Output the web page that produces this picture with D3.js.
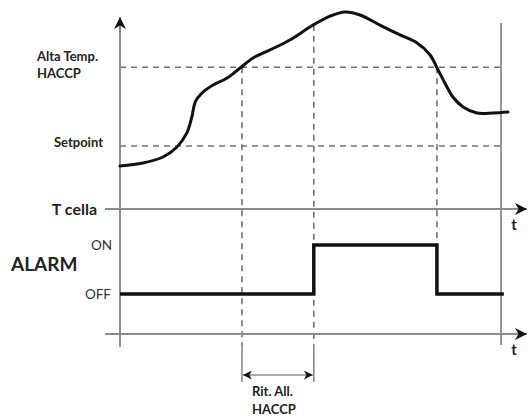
<!DOCTYPE html>
<html><head><meta charset="utf-8">
<script src="https://cdn.jsdelivr.net/npm/d3@7"></script>
<style>html,body{margin:0;padding:0;background:#fff;}svg{display:block;}</style>
</head><body>
<script>
// ---- data ----
const tempTime = [0,0.605,1.13,1.5,1.76,1.89,1.99,2.2,2.45,2.82,3.16,3.5,3.95,4.47,5.08,5.53,5.92,6.32,6.84,7.37,7.82,8.16,8.37,8.55,8.76,9.03,9.39,9.82,10.21];
const tempValue = [2.73,2.92,3.30,3.94,4.83,5.84,6.85,7.45,7.87,8.32,8.95,9.59,10.10,10.73,11.68,12.25,12.51,12.32,11.68,11.05,10.54,9.78,8.83,8.0,7.11,6.48,6.10,6.10,6.16];
const setpoint = 4;
const altaTemp = 9;
const tUp = 3.21, tOn = 5.1, tOff = 8.34, tEnd = 10.1;
const alarmTime = [0, tOn, tOn, tOff, tOff, tEnd];
const alarmState = [0, 0, 1, 1, 0, 0];
const thresholdLabels = [["Alta Temp.","HACCP"],["Setpoint"]];
const alarmLabels = ["OFF","ON"];

const W=528,H=416;
const svg=d3.select("body").append("svg").attr("width",W).attr("height",H);
const x=d3.scaleLinear().domain([0,10]).range([120,500]);
const y=d3.scaleLinear().domain([0,12]).range([209,20]);
const ya=d3.scaleLinear().domain([0,1]).range([294,245]);
const axisY2=334;
const gray="#8c8c8c", dgray="#707070";
const font="Lato, 'Open Sans', sans-serif";

const defs=svg.append("defs");
defs.append("marker").attr("id","arr").attr("viewBox","0 0 10 10").attr("refX",10).attr("refY",5)
  .attr("markerWidth",12).attr("markerHeight",12).attr("markerUnits","userSpaceOnUse").attr("orient","auto-start-reverse")
  .append("path").attr("d","M0,0L10,5L0,10L3,5Z").attr("fill","#111");
defs.append("marker").attr("id","arrs").attr("viewBox","0 0 10 10").attr("refX",10).attr("refY",5)
  .attr("markerWidth",10).attr("markerHeight",9).attr("markerUnits","userSpaceOnUse").attr("orient","auto-start-reverse")
  .append("path").attr("d","M0,0L10,5L0,10L3,5Z").attr("fill","#111");

// dashed thresholds
[altaTemp,setpoint].forEach(v=>{
  svg.append("line").attr("x1",x(0)).attr("x2",x(10)).attr("y1",y(v)).attr("y2",y(v))
    .attr("stroke",dgray).attr("stroke-width",1.6).attr("stroke-dasharray","6,5");
});
// vertical dashed
const curveAt=t=>{
  for(let i=1;i<tempTime.length;i++){ if(t<=tempTime[i]){const f=(t-tempTime[i-1])/(tempTime[i]-tempTime[i-1]);return tempValue[i-1]+f*(tempValue[i]-tempValue[i-1]);} }
  return tempValue[tempValue.length-1];
};
[[tUp,y(altaTemp),345],[tOn,y(curveAt(tOn)),345],[tOff,y(altaTemp),ya(1)]].forEach(d=>{
  svg.append("line").attr("x1",x(d[0])).attr("x2",x(d[0])).attr("y1",d[1]).attr("y2",d[2])
    .attr("stroke",dgray).attr("stroke-width",1.6).attr("stroke-dasharray","6,5");
});
[tUp,tOn].forEach(t=>{
  svg.append("line").attr("x1",x(t)).attr("x2",x(t)).attr("y1",345).attr("y2",382).attr("stroke",dgray).attr("stroke-width",1.3);
});
// delay arrow
svg.append("line").attr("x1",x(tUp)+1).attr("x2",x(tOn)-1).attr("y1",375).attr("y2",375)
  .attr("stroke",gray).attr("stroke-width",1.6).attr("marker-start","url(#arrs)").attr("marker-end","url(#arrs)");

// axes
svg.append("line").attr("x1",x(0)).attr("x2",x(0)).attr("y1",347).attr("y2",17).attr("stroke",gray).attr("stroke-width",2).attr("marker-end","url(#arr)");
svg.append("line").attr("x1",x(10)+1).attr("x2",x(10)+1).attr("y1",23).attr("y2",345).attr("stroke",gray).attr("stroke-width",1.8);
svg.append("line").attr("x1",105).attr("x2",527).attr("y1",y(0)).attr("y2",y(0)).attr("stroke",gray).attr("stroke-width",2).attr("marker-end","url(#arr)");
svg.append("line").attr("x1",105).attr("x2",527).attr("y1",axisY2).attr("y2",axisY2).attr("stroke",gray).attr("stroke-width",2).attr("marker-end","url(#arr)");

// temperature curve
const pts=tempTime.map((t,i)=>[t,tempValue[i]]);
svg.append("path").datum(pts).attr("fill","none").attr("stroke","#111").attr("stroke-width",3)
  .attr("stroke-linecap","round")
  .attr("d",d3.line().x(d=>x(d[0])).y(d=>y(d[1])).curve(d3.curveCatmullRom.alpha(0.5)));

// alarm
const apts=alarmTime.map((t,i)=>[t,alarmState[i]]);
svg.append("path").datum(apts).attr("fill","none").attr("stroke","#111").attr("stroke-width",3.5)
  .attr("d",d3.line().x(d=>x(d[0])).y(d=>ya(d[1])));

// labels
const txt=(s,xx,yy,size,weight,anchor,col)=>svg.append("text").attr("x",xx).attr("y",yy).text(s)
  .attr("font-family",font).attr("font-size",size).attr("font-weight",weight).attr("text-anchor",anchor||"start")
  .attr("fill",col||"#222").attr("dominant-baseline","central");
txt(thresholdLabels[0][0],37,56,13,"bold");
txt(thresholdLabels[0][1],37,73,13,"bold");
txt(thresholdLabels[1][0],103,142,13,"bold","end");
txt("T cella",97,208,16,"bold","end");
txt("ALARM",11,263,19,"bold");
txt(alarmLabels[1],112,245,13.5,"normal","end","#333");
txt(alarmLabels[0],111,294,13.5,"normal","end","#333");
txt("t",514,224,15,"bold","middle");
txt("t",514,349,15,"bold","middle");
txt("Rit. All.",252,391,13,"bold");
txt("HACCP",252,409,13,"bold");
</script>
</body></html>
